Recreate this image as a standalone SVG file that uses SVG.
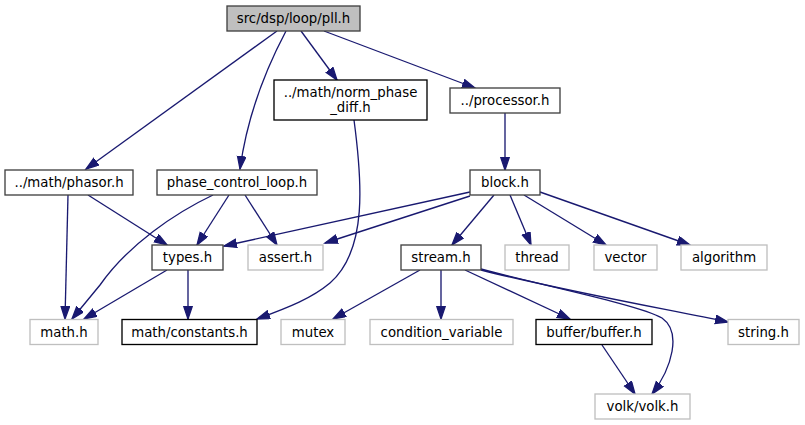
<svg xmlns="http://www.w3.org/2000/svg" width="805" height="425" viewBox="0 0 805 425">
<style>
.n rect{fill:#fff;stroke:#404040;stroke-width:1.33}
.n.u rect{stroke:#000}
.n.x rect{stroke:#bfbfbf}
.n.r rect{fill:#bfbfbf}
text{font-family:"DejaVu Sans","Liberation Sans",sans-serif;font-size:13.3px;fill:#000;text-anchor:middle}
.e path{fill:none;stroke:#191970;stroke-width:1.33;marker-end:url(#a)}
</style>
<defs>
<marker id="a" markerUnits="userSpaceOnUse" markerWidth="15" markerHeight="11" refX="13" refY="4.7" orient="auto" viewBox="0 0 15 11">
<path d="M0.5,0.5 L13,4.7 L0.5,8.9 z" fill="#191970" stroke="#191970" stroke-width="1.33"/>
</marker>
</defs>
<rect width="805" height="425" fill="#fff"/>
<g class="e">
<path d="M277,31 L86,169"/>
<path d="M286,31 C268,65 248,110 240,169"/>
<path d="M301,31 L337,80"/>
<path d="M324,31 L475,88"/>
<path d="M354,120 C362,180 368,250 330,283 C312,298 290,307 257,319"/>
<path d="M505,113 L505,170"/>
<path d="M68,195 L65,319"/>
<path d="M88,195 L167,245"/>
<path d="M213,195 C175,213 128,245 100,285 L72,319"/>
<path d="M229,195 L197,245"/>
<path d="M245,195 L277,245"/>
<path d="M167,270 L84,319"/>
<path d="M188,270 L188,319"/>
<path d="M470,192 L224,246"/>
<path d="M470,196 L325,243"/>
<path d="M494,195 L452,245"/>
<path d="M510,195 L531,245"/>
<path d="M524,195 L606,245"/>
<path d="M540,192 L690,245"/>
<path d="M420,270 L333,319"/>
<path d="M441,270 L441,319"/>
<path d="M465,270 L570,319"/>
<path d="M481,269 C540,285 640,305 662,318 C682,332 672,368 652,394"/>
<path d="M481,270 C560,290 660,308 728,322"/>
<path d="M602,345 L635,394"/>
</g>
<g id="pll" class="n r"><rect x="227" y="6" width="133" height="25"/><text x="293.5" y="23">src/dsp/loop/pll.h</text></g>
<g id="norm_phase_diff" class="n u"><rect x="274" y="80" width="153" height="40"/><text x="350.5" y="97">../math/norm_phase</text><text x="350.5" y="112">_diff.h</text></g>
<g id="processor" class="n"><rect x="450" y="88" width="110" height="25"/><text x="505" y="105">../processor.h</text></g>
<g id="phasor" class="n"><rect x="5" y="170" width="128" height="25"/><text x="69" y="187">../math/phasor.h</text></g>
<g id="phase_control_loop" class="n"><rect x="157" y="170" width="160" height="25"/><text x="237" y="187">phase_control_loop.h</text></g>
<g id="block" class="n"><rect x="470" y="170" width="70" height="25"/><text x="505" y="187">block.h</text></g>
<g id="types" class="n"><rect x="152" y="245" width="71" height="25"/><text x="187.5" y="262">types.h</text></g>
<g id="assert" class="n x"><rect x="248" y="245" width="75" height="25"/><text x="285.5" y="262">assert.h</text></g>
<g id="stream" class="n"><rect x="401" y="245" width="80" height="25"/><text x="441" y="262">stream.h</text></g>
<g id="thread" class="n x"><rect x="505" y="245" width="64" height="25"/><text x="537" y="262">thread</text></g>
<g id="vector" class="n x"><rect x="594" y="245" width="63" height="25"/><text x="625.5" y="262">vector</text></g>
<g id="algorithm" class="n x"><rect x="681" y="245" width="86" height="25"/><text x="724" y="262">algorithm</text></g>
<g id="math" class="n x"><rect x="30" y="319.5" width="68" height="25"/><text x="64" y="336.5">math.h</text></g>
<g id="constants" class="n u"><rect x="122" y="319.5" width="135" height="25"/><text x="189.5" y="336.5">math/constants.h</text></g>
<g id="mutex" class="n x"><rect x="281" y="319.5" width="64" height="25"/><text x="313" y="336.5">mutex</text></g>
<g id="condition_variable" class="n x"><rect x="370" y="319.5" width="143" height="25"/><text x="441.5" y="336.5">condition_variable</text></g>
<g id="buffer" class="n u"><rect x="536" y="319.5" width="116" height="25"/><text x="594" y="336.5">buffer/buffer.h</text></g>
<g id="string" class="n x"><rect x="728" y="319.5" width="71" height="25"/><text x="763.5" y="336.5">string.h</text></g>
<g id="volk" class="n x"><rect x="595" y="394" width="95" height="25"/><text x="642.5" y="411">volk/volk.h</text></g>
</svg>
